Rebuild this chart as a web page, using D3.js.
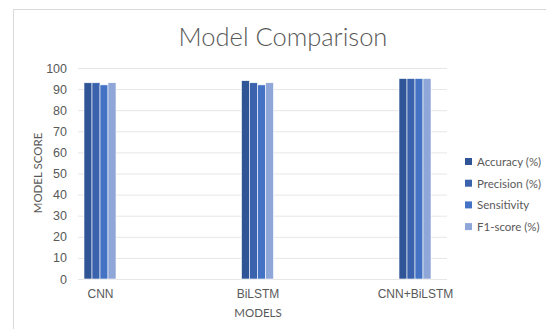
<!DOCTYPE html>
<html>
<head>
<meta charset="utf-8">
<script src="https://cdn.jsdelivr.net/npm/d3@7"></script>
<style>
  html, body { margin: 0; padding: 0; background: #fff; }
  svg { display: block; font-family: Lato, "Open Sans", sans-serif; }
</style>
</head>
<body>
<svg id="chart" width="546" height="329"></svg>
<script>
// Model names along the x axis
const models = ["CNN", "BiLSTM", "CNN+BiLSTM"];
// Metric series, in legend order
const metrics = ["Accuracy (%)", "Precision (%)", "Sensitivity", "F1-score (%)"];
const accuracy    = [93, 94, 95];
const precision   = [93, 93, 95];
const sensitivity = [92, 92, 95];
const f1score     = [93, 93, 95];
const yTicks = [0, 10, 20, 30, 40, 50, 60, 70, 80, 90, 100];

const seriesValues = [accuracy, precision, sensitivity, f1score];
const colors = ["#2f5597", "#3b62ad", "#4472c4", "#8fa6d8"];

const svg = d3.select("#chart");

// Chart area frame
svg.append("rect")
  .attr("x", 13.5).attr("y", 9.5)
  .attr("width", 540).attr("height", 330)
  .attr("fill", "#fff").attr("stroke", "#d9d9d9").attr("stroke-width", 1);

const plot = { left: 78, right: 447, top: 68, bottom: 279 };

const y = d3.scaleLinear().domain([0, 100]).range([plot.bottom, plot.top]);
const xc = d3.scalePoint().domain(models).range([100, 415]);
const groupWidth = 32;
const xs = d3.scaleBand().domain(metrics).range([-groupWidth / 2, groupWidth / 2]).padding(0);

// Gridlines and y tick labels
const yAxis = d3.axisLeft(y).tickValues(yTicks).tickSize(-(plot.right - plot.left)).tickPadding(11);
const yg = svg.append("g").attr("transform", `translate(${plot.left},0)`).call(yAxis);
yg.select(".domain").remove();
yg.selectAll(".tick line").attr("stroke", "#e6e6e6").attr("stroke-width", 1);
yg.selectAll(".tick text")
  .attr("fill", "#595959").attr("font-size", 12.5);

// Bars
const rows = [];
models.forEach((m, i) => metrics.forEach((s, j) => rows.push({ model: m, metric: s, value: seriesValues[j][i], j })));

svg.append("g").selectAll("rect").data(rows).join("rect")
  .attr("x", d => xc(d.model) + xs(d.metric))
  .attr("y", d => y(d.value))
  .attr("width", xs.bandwidth())
  .attr("height", d => y(0) - y(d.value))
  .attr("fill", d => colors[d.j])
  .attr("stroke", "#fff").attr("stroke-width", 0.6);

// X axis category labels
const xAxis = d3.axisBottom(xc).tickSize(0).tickPadding(10);
const xg = svg.append("g").attr("transform", `translate(0,${plot.bottom})`).call(xAxis);
xg.select(".domain").remove();
xg.selectAll(".tick text").attr("fill", "#595959").attr("font-size", 12);

// Title
svg.append("text")
  .attr("x", 283).attr("y", 46)
  .attr("text-anchor", "middle")
  .attr("fill", "#595959").attr("font-size", 25.5).attr("font-weight", 300)
  .text("Model Comparison");

// Axis titles
svg.append("text")
  .attr("x", 258).attr("y", 317)
  .attr("text-anchor", "middle")
  .attr("fill", "#595959").attr("font-size", 11.5)
  .text("MODELS");

svg.append("text")
  .attr("transform", "translate(42,173) rotate(-90)")
  .attr("text-anchor", "middle")
  .attr("fill", "#595959").attr("font-size", 11.5)
  .text("MODEL SCORE");

// Legend
const legend = svg.append("g").attr("transform", "translate(465,162)");
const li = legend.selectAll("g").data(metrics).join("g")
  .attr("transform", (d, i) => `translate(0,${i * 21.7})`);
li.append("rect").attr("x", 0).attr("y", -4).attr("width", 7).attr("height", 7)
  .attr("fill", (d, i) => colors[i]);
li.append("text").attr("x", 12).attr("y", 0).attr("dy", "0.35em")
  .attr("fill", "#595959").attr("font-size", 11.5)
  .text(d => d);
</script>
</body>
</html>
